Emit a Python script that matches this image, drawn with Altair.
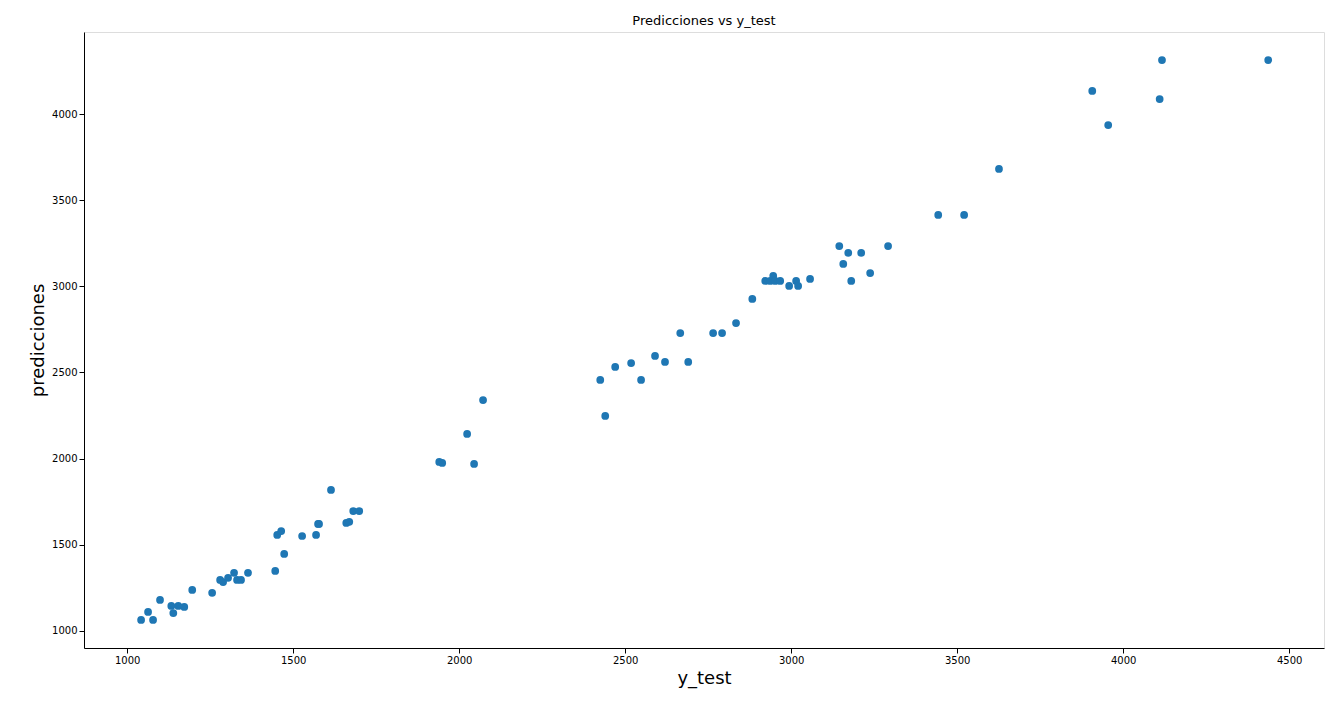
import pandas as pd
import altair as alt

y_test = [1042, 1063, 1078, 1099, 1133, 1139, 1154, 1172, 1196, 1256, 1280, 1289, 1304, 1322,
          1331, 1343, 1364, 1446, 1452, 1464, 1473, 1527, 1569, 1575, 1578, 1614, 1660, 1669,
          1681, 1699, 1940, 1949, 2024, 2045, 2072, 2425, 2440, 2470, 2518, 2548, 2590, 2620,
          2666, 2690, 2765, 2792, 2834, 2883, 2922, 2937, 2946, 2952, 2967, 2994, 3015, 3021,
          3057, 3145, 3157, 3172, 3181, 3211, 3238, 3292, 3443, 3521, 3626, 3907, 3955, 4110,
          4117, 4437]
predicciones = [1064, 1110, 1064, 1180, 1145, 1104, 1145, 1139, 1238, 1221, 1296, 1284, 1308, 1337,
                1296, 1296, 1337, 1348, 1557, 1580, 1447, 1551, 1557, 1621, 1621, 1818, 1627, 1633,
                1696, 1696, 1981, 1975, 2143, 1969, 2340, 2457, 2248, 2532, 2555, 2457, 2596, 2561,
                2729, 2561, 2729, 2729, 2787, 2927, 3031, 3031, 3060, 3031, 3031, 3002, 3031, 3002,
                3043, 3234, 3130, 3194, 3031, 3194, 3077, 3234, 3414, 3414, 3681, 4134, 3936, 4087,
                4313, 4313]

df = pd.DataFrame({"y_test": y_test, "predicciones": predicciones})

chart = alt.Chart(df).mark_circle(size=60, color="#1f77b4", opacity=1).encode(
    x=alt.X("y_test", scale=alt.Scale(domain=[870, 4605], nice=False, zero=False),
            axis=alt.Axis(values=[1000, 1500, 2000, 2500, 3000, 3500, 4000, 4500], grid=False,
                          format="d", title="y_test", titleFontSize=18, titleFontWeight="normal",
                          labelFontSize=10, labelColor="black", tickColor="black",
                          domainColor="black", titleColor="black")),
    y=alt.Y("predicciones", scale=alt.Scale(domain=[901, 4476], nice=False, zero=False),
            axis=alt.Axis(values=[1000, 1500, 2000, 2500, 3000, 3500, 4000], grid=False,
                          format="d", title="predicciones", titleFontSize=18, titleFontWeight="normal",
                          labelFontSize=10, labelColor="black", tickColor="black",
                          domainColor="black", titleColor="black")),
).properties(
    width=1240, height=616,
    title=alt.TitleParams("Predicciones vs y_test", fontSize=13, fontWeight="normal", color="black"),
    autosize=alt.AutoSizeParams(type="none"),
    padding={"left": 76, "top": 24, "right": 2, "bottom": 50},
).configure_view(stroke="#000000", strokeWidth=1, strokeOpacity=1).configure(font="DejaVu Sans")

chart.save("out.html", embed_options={"renderer": "svg", "actions": False})
